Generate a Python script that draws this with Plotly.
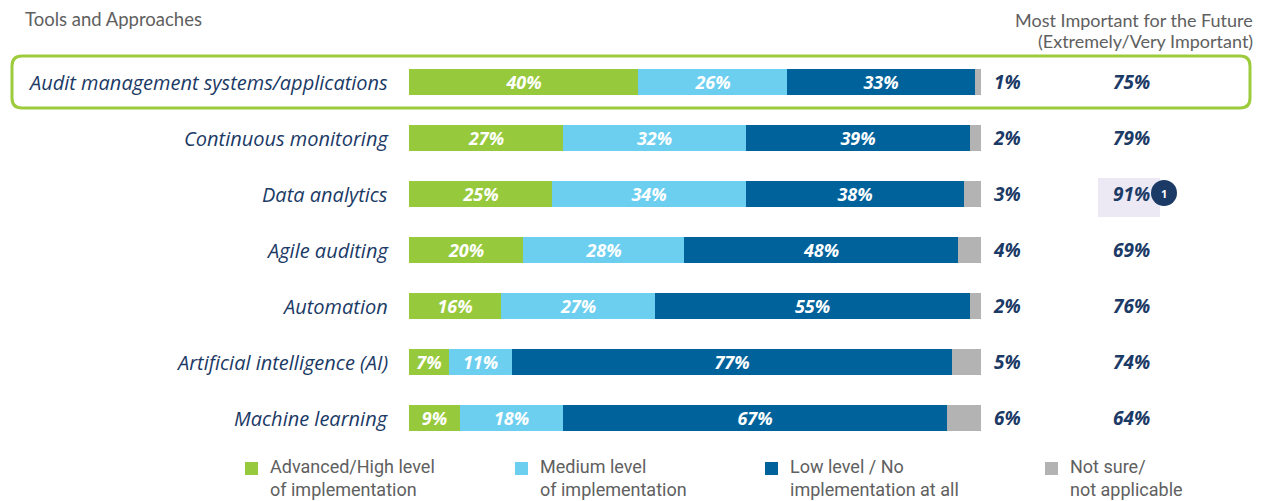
import plotly.graph_objects as go

categories = ["Audit management systems/applications", "Continuous monitoring", "Data analytics",
              "Agile auditing", "Automation", "Artificial intelligence (AI)", "Machine learning"]
advanced = [40, 27, 25, 20, 16, 7, 9]
medium = [26, 32, 34, 28, 27, 11, 18]
low = [33, 39, 38, 48, 55, 77, 67]
not_sure = [1, 2, 3, 4, 2, 5, 6]
future = [75, 79, 91, 69, 76, 74, 64]
series_names = ["Advanced/High level<br>of implementation", "Medium level<br>of implementation",
                "Low level / No<br>implementation at all", "Not sure/<br>not applicable"]
colors = ["#97c93d", "#6dcff0", "#00629b", "#b3b3b3"]
NAVY = "#1b3a66"
GRAY = "#606060"

OFF = 8  # page body margin
W, H = 1261 - OFF, 501 - OFF
L, R = 409 - OFF, 981 - OFF
T, B = 54 - OFF, 446 - OFF

def px(x):
    return (x - OFF - L) / (R - L)

def py(y):
    return (B - (y - OFF)) / (B - T)

fig = go.Figure()
for vals, name, col, show in zip([advanced, medium, low, not_sure], series_names, colors,
                                 [True, True, True, False]):
    fig.add_trace(go.Bar(
        y=categories, x=vals, orientation="h", name=name, marker_color=col,
        marker_line_width=0, width=0.47,
        text=[f"{v}%" for v in vals] if show else None,
        textposition="inside" if show else "none", insidetextanchor="middle",
        constraintext="none", cliponaxis=False,
        textfont=dict(family="Open Sans", size=18, color="white", weight="bold", style="italic"),
        showlegend=False,
    ))

fig.update_layout(
    barmode="stack", width=W, height=H,
    margin=dict(l=L, r=W - R, t=T, b=H - B),
    plot_bgcolor="white", paper_bgcolor="white",
    xaxis=dict(range=[0, 100], visible=False),
    yaxis=dict(autorange=False, range=[len(categories) - 0.5, -0.5], showticklabels=False,
               showgrid=False, zeroline=False, showline=False),
    bargap=0,
)

anns = []
for c in categories:
    anns.append(dict(x=px(390), xref="paper", y=c, yref="y", text=c, showarrow=False,
                     xanchor="right", font=dict(family="Open Sans", size=20, color=NAVY, style="italic")))
for c, v in zip(categories, not_sure):
    anns.append(dict(x=px(1007), xref="paper", y=c, yref="y", text=f"{v}%", showarrow=False,
                     xanchor="center", font=dict(family="Open Sans", size=19, color=NAVY, weight="bold", style="italic")))
for c, v in zip(categories, future):
    anns.append(dict(x=px(1131), xref="paper", y=c, yref="y", text=f"{v}%", showarrow=False,
                     xanchor="center", font=dict(family="Open Sans", size=19, color=NAVY, weight="bold", style="italic")))
anns.append(dict(x=px(23), xref="paper", y=py(19), yref="paper", text="Tools and Approaches",
                 showarrow=False, xanchor="left", yanchor="middle",
                 font=dict(family="Lato", size=18.5, color=GRAY)))
for txt, yy in [("Most Important for the Future", 19.5), ("(Extremely/Very Important)", 41)]:
    anns.append(dict(x=px(1255), xref="paper", y=py(yy), yref="paper", text=txt,
                     showarrow=False, xanchor="right", yanchor="middle", align="right",
                     font=dict(family="Lato", size=18, color=GRAY)))
anns.append(dict(x=px(1164), xref="paper", y=py(193), yref="paper", text="1", showarrow=False,
                 xanchor="center", yanchor="middle",
                 font=dict(family="Open Sans", size=11, color="white", weight="bold")))

shapes = []
x0, x1, y0, y1, r = 12, 1250, 56, 108, 10
path = (f"M {px(x0 + r)},{py(y0)} L {px(x1 - r)},{py(y0)} "
        f"Q {px(x1)},{py(y0)} {px(x1)},{py(y0 + r)} L {px(x1)},{py(y1 - r)} "
        f"Q {px(x1)},{py(y1)} {px(x1 - r)},{py(y1)} L {px(x0 + r)},{py(y1)} "
        f"Q {px(x0)},{py(y1)} {px(x0)},{py(y1 - r)} L {px(x0)},{py(y0 + r)} "
        f"Q {px(x0)},{py(y0)} {px(x0 + r)},{py(y0)} Z")
shapes.append(dict(type="path", path=path, xref="paper", yref="paper",
                   line=dict(color="#9ccb3b", width=3), layer="below"))
shapes.append(dict(type="rect", xref="paper", yref="paper", x0=px(1098), x1=px(1160),
                   y0=py(178), y1=py(217), fillcolor="#ece9f4", line_width=0, layer="below"))
shapes.append(dict(type="circle", xref="paper", yref="paper", x0=px(1151), x1=px(1177),
                   y0=py(180), y1=py(206), fillcolor=NAVY, line_width=0))

leg_x = [245, 515, 765, 1045]
for lx, name, col in zip(leg_x, series_names, colors):
    shapes.append(dict(type="rect", xref="paper", yref="paper", x0=px(lx), x1=px(lx + 13),
                       y0=py(462), y1=py(475), fillcolor=col, line_width=0))
    anns.append(dict(x=px(lx + 23), xref="paper", y=py(478), yref="paper", text=name,
                     showarrow=False, xanchor="left", yanchor="middle", align="left",
                     font=dict(family="Liberation Sans Narrow, Roboto", size=18, color=GRAY)))

fig.update_layout(annotations=anns, shapes=shapes)
fig.write_html("out.html")
